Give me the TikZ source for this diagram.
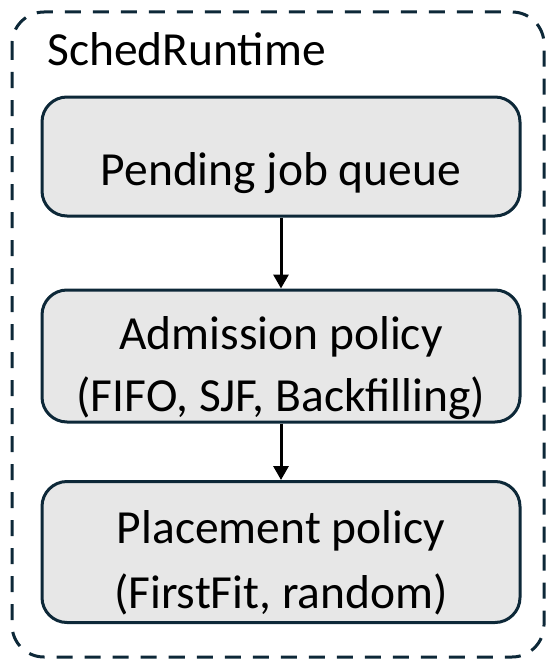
\documentclass[tikz,border=0pt]{standalone}
\usepackage{fontspec}
\setmainfont{Carlito}
\usetikzlibrary{arrows.meta}
\definecolor{edgeblue}{HTML}{0D2838}
\definecolor{boxgray}{HTML}{E7E7E7}

\begin{document}
\begin{tikzpicture}
  [x=1pt,y=-1pt,every node/.style={font=\fontsize{47.5}{62}\selectfont,text=black},
   stagebox/.style={draw=edgeblue,line width=3pt,fill=boxgray,rounded corners=25pt,
     minimum width=478pt,inner sep=0pt},
   stagetext/.style={align=center,inner sep=0pt}]
  \useasboundingbox (0,0) rectangle (548,661);
  \draw[edgeblue,line width=3pt,dash pattern=on 16pt off 12pt,rounded corners=32pt]
    (12,12) rectangle (544,657);
  \node[anchor=base west,inner sep=0pt] (title) at (47,66) {SchedRuntime};

  \node[stagebox,minimum height=119pt] (queue) at (281,156.5) {};
  \node[stagebox,minimum height=132pt] (admit) at (281,356) {};
  \node[stagebox,minimum height=141pt] (place) at (281,552) {};

  \node[stagetext] (queuetext) at ([yshift=-17pt]queue.center) {Pending job queue};
  \node[stagetext] (admittext) at ([yshift=-12pt]admit.center) {Admission policy\\(FIFO, SJF, Backfilling)};
  \node[stagetext,font=\fontsize{47.5}{65}\selectfont] (placetext) at ([yshift=-11pt]place.center) {Placement policy\\(FirstFit, random)};

  \foreach \from/\to in {queue/admit, admit/place}
    \draw[line width=3pt,-{Triangle[width=15pt,length=14pt]}] (\from) -- (\to);

\end{tikzpicture}
\end{document}
